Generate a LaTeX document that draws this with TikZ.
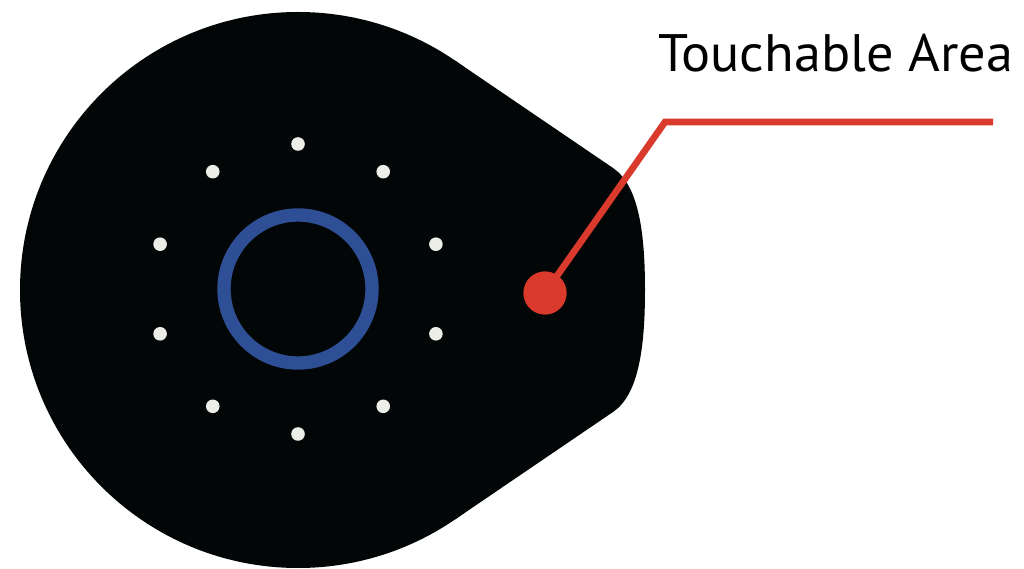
\documentclass[tikz,border=0pt]{standalone}
\usepackage{fontspec}
\setmainfont{PT Sans}
\usetikzlibrary{positioning}
\definecolor{padblack}{HTML}{030606}
\definecolor{ringblue}{HTML}{2E4F96}
\definecolor{touchred}{HTML}{D93A2C}
\definecolor{pipwhite}{HTML}{EEEEE8}
\tikzset{
  pad/.style={fill=padblack},                                  % device body
  pip/.style={fill=pipwhite},                                  % LED dot
  ring/.style={draw=ringblue,line width=7.6pt},                % centre ring
  touch/.style={circle,fill=touchred,minimum size=0.86cm,inner sep=0pt},
  lead/.style={touchred,line width=3.8pt},
  tag/.style={font=\fontsize{30}{34}\selectfont,inner sep=0pt,xscale=1.03},
}

\begin{document}
\begin{tikzpicture}[x=0.02cm,y=0.02cm]
  \useasboundingbox (0,0) rectangle (1024,568);
  % body: round part plus the tapered tip on the right
  \fill[pad] (298,278) circle[radius=278];
  \fill[pad] (298,278) -- (454.5,507.8) -- (613,400)
    .. controls (638,383) and (645,338) .. (645,278)
    .. controls (645,218) and (638,173) .. (613,156)
    -- (454.5,48.2) -- cycle;
  \coordinate (hub) at (298,279);
  \draw[ring] (hub) circle[radius=74];
  \foreach \a in {0,...,9} \fill[pip] (hub) ++(90+36*\a:145) circle[radius=6.8];
  % callout
  \coordinate (elbow) at (665,446);
  \coordinate (lineend) at (993,446);
  \node[touch] (touch) at (545,275) {};
  \draw[lead] (touch.center) -- (elbow) -- (lineend);
  \node[touch] at (touch) {};
  \node[tag,anchor=base west] (label) at (658,496) {Touchable Area};
\end{tikzpicture}
\end{document}
